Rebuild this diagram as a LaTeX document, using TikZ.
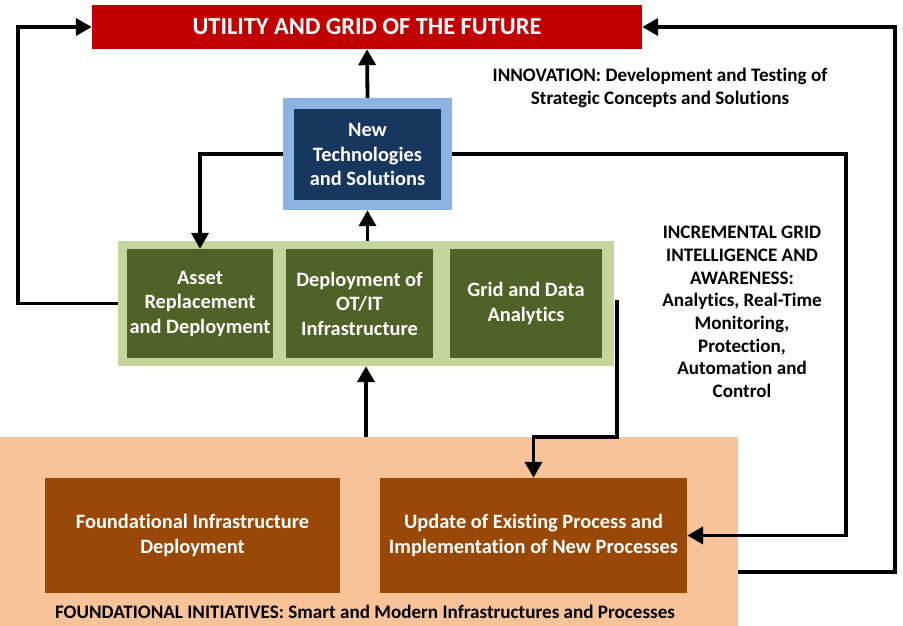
\documentclass[tikz,border=0pt]{standalone}
\usepackage{fontspec}
\setmainfont{Carlito}[Ligatures=CommonOff]
\usetikzlibrary{arrows.meta,calc}
\definecolor{cred}{HTML}{C00000}
\definecolor{cblueout}{HTML}{8DB3E2}
\definecolor{cnavy}{HTML}{17375E}
\definecolor{cgreenout}{HTML}{C3D69B}
\definecolor{colive}{HTML}{4F6228}
\definecolor{cpeach}{HTML}{F9C39A}
\definecolor{cbrown}{HTML}{9A4808}
\begin{document}
\begin{tikzpicture}[x=1pt,y=-1pt,
 box/.style={draw=none, inner sep=0pt, align=center, text=white, font=\bfseries\fontsize{20.4}{24.5}\selectfont},
 bg/.style={draw=none, inner sep=0pt},
 conn/.style={line width=3.8pt, -{Triangle[length=16pt,width=17pt]}},
 lbl/.style={align=center, font=\bfseries\fontsize{19.1}{22.7}\selectfont}]
\useasboundingbox (0,0) rectangle (903,626);
% backgrounds
\node[bg, fill=cpeach, minimum width=738pt, minimum height=189pt] (peach) at (369,531.5) {};
\node[bg, fill=cgreenout, minimum width=496pt, minimum height=125pt] (green) at (366,303.5) {};
\node[bg, fill=cblueout, minimum width=169pt, minimum height=112pt] (ntout) at (367.5,154) {};
% boxes
\node[box, fill=cred, minimum width=550pt, minimum height=44pt, font=\bfseries\fontsize{24.4}{28}\selectfont] (title) at (367,27) {UTILITY AND GRID OF THE FUTURE};
\node[box, fill=cnavy, minimum width=147pt, minimum height=91pt] (nt) at (367.5,154.5) {New\\Technologies\\and Solutions};
\node[box, fill=colive, minimum width=146pt, minimum height=109pt] (asset) at (200,303.5) {Asset\\Replacement\\and Deployment};
\node[box, fill=colive, minimum width=147pt, minimum height=109pt] (otit) at (359.5,303.5) {Deployment of\\OT/IT\\Infrastructure};
\node[box, fill=colive, minimum width=152pt, minimum height=109pt] (gda) at (526,303.5) {Grid and Data\\Analytics};
\node[box, fill=cbrown, minimum width=295pt, minimum height=115pt] (fid) at (192.5,535.5) {Foundational Infrastructure\\Deployment};
\node[box, fill=cbrown, minimum width=307pt, minimum height=115pt] (upd) at (533.5,535.5) {Update of Existing Process and\\Implementation of New Processes};
% labels
\node[lbl] (innov) at (660,88) {INNOVATION: Development and Testing of\\Strategic Concepts and Solutions};
\node[lbl] (incr) at (742,312) {INCREMENTAL GRID\\INTELLIGENCE AND\\AWARENESS:\\Analytics, Real-Time\\Monitoring,\\Protection,\\Automation and\\Control};
\node[lbl] (foot) at (365,612) {FOUNDATIONAL INITIATIVES: Smart and Modern Infrastructures and Processes};
% connectors
\draw[conn] (ntout.north) -- (title.south);
\draw[conn] (green.north -| ntout.south) -- (ntout.south);
\draw[conn] (green.south |- peach.north) -- (green.south);
\draw[conn] (ntout.west) -| (asset.north);
\coordinate (lx) at (18,303.5);
\draw[conn] (green.west) -- (lx) |- (title.west);
\coordinate (r1) at (846,535.5);
\draw[conn] (ntout.east) -| (r1) -- (upd.east);
\coordinate (g1) at (617,300);
\draw[conn] (g1) -- (g1 |- peach.north) -| (upd.north);
\coordinate (pr) at (738,572);
\coordinate (rr) at (895,572);
\draw[conn] (pr) -- (rr) |- (title.east);
\end{tikzpicture}
\end{document}
